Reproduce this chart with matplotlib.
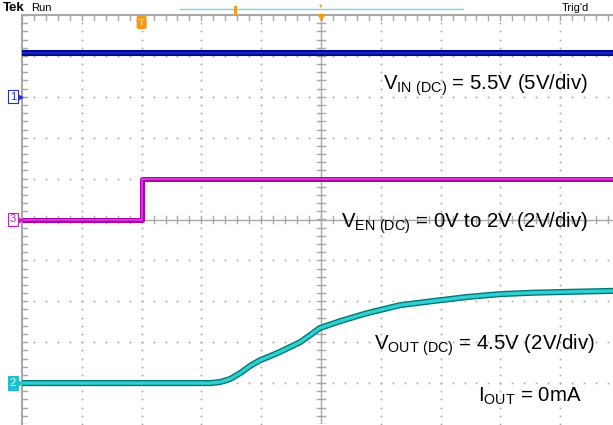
import numpy as np
import matplotlib.pyplot as plt

plt.rcParams['font.family'] = ['Liberation Sans', 'DejaVu Sans']
plt.rcParams['mathtext.fontset'] = 'custom'
plt.rcParams['mathtext.rm'] = 'Liberation Sans'

W, H = 613, 425

# ---- scope captures (time in divisions, level in volts) ----
vin_t = [0, 10]
vin_v = [5.4, 5.4]

ven_t = [0, 2.0, 2.0, 10]
ven_v = [0, 0, 2.0, 2.0]

vout_t = [0, 3.14, 3.31, 3.48, 3.65, 3.81, 3.98, 4.15, 4.31, 4.48, 4.65, 4.82, 4.98,
          5.32, 5.77, 6.32, 6.87, 7.44, 7.99, 8.55, 9.11, 9.88, 10]
vout_v = [0, 0, 0.05, 0.20, 0.49, 0.83, 1.12, 1.32, 1.52, 1.76, 2.00, 2.35, 2.69,
          3.03, 3.42, 3.81, 4.01, 4.21, 4.35, 4.42, 4.46, 4.51, 4.52]

# channel settings: (volts/div, ground offset in divisions)
CH1 = (5.0, 3.0)
CH2 = (2.0, -4.0)
CH3 = (2.0, 0.0)

def to_div(v, ch):
    return np.array(v) / ch[0] + ch[1]

fig = plt.figure(figsize=(W / 100, H / 100), dpi=100)
ax = fig.add_axes([22 / W, 1 / H, 598 / W, 409 / H])
ax.set_xlim(0, 10)
ax.set_ylim(-5, 5)
ax.axis('off')

grid_c = '#a8a8a8'
minor = np.arange(0, 10.01, 0.2)
minor_y = np.arange(-5, 5.01, 0.2)

# dotted graticule
for gx in range(1, 10):
    if gx != 5:
        ax.plot(np.full_like(minor_y, gx), minor_y, ls='none', marker='s', ms=1.2, color=grid_c, mew=0)
for gy in range(-4, 5):
    if gy != 0:
        ax.plot(minor, np.full_like(minor, gy), ls='none', marker='s', ms=1.2, color=grid_c, mew=0)

# centre crosshair and border with ticks
ax.plot([0, 10], [0, 0], color=grid_c, lw=1)
ax.plot([5, 5], [-5, 5], color=grid_c, lw=1)
ax.plot([0, 10.2], [5, 5], color=grid_c, lw=1.5, clip_on=False)
ax.plot([0, 0], [-5, 5], color=grid_c, lw=1.5, clip_on=False)
for m in minor:
    ax.plot([m, m], [-0.08, 0.08], color=grid_c, lw=1)
    ax.plot([m, m], [5, 4.88], color=grid_c, lw=1)
for m in minor_y:
    ax.plot([4.94, 5.06], [m, m], color=grid_c, lw=1)
    ax.plot([0, 0.08], [m, m], color=grid_c, lw=1)

# traces
ax.plot(vin_t, to_div(vin_v, CH1), color='#000a90', lw=4.4, solid_capstyle='butt')
ax.plot(vin_t, to_div(vin_v, CH1), color='#1428c0', lw=1.5, solid_capstyle='butt')
ax.plot(ven_t, to_div(ven_v, CH3), color='#b000b0', lw=3.6, solid_capstyle='butt')
ax.plot(ven_t, to_div(ven_v, CH3), color='#e040e0', lw=1.2, solid_capstyle='butt')
ax.plot(vout_t, to_div(vout_v, CH2), color='#007878', lw=4.4, solid_capstyle='butt')
ax.plot(vout_t, to_div(vout_v, CH2), color='#30d0d0', lw=2.4, solid_capstyle='butt')

# channel ground markers
marks = [('1', CH1, '#2030d0', 'white'), ('3', CH3, '#c020c0', 'white'), ('2', CH2, 'white', '#20c0d0')]
for lab, ch, fc, bg in marks:
    ax.text(-0.15, ch[1], lab, ha='center', va='center', fontsize=8, color=fc, clip_on=False,
            bbox=dict(boxstyle='square,pad=0.15', fc=bg, ec=fc if bg == 'white' else bg, lw=0.8))
    ax.plot([-0.04], [ch[1]], marker='>', ms=3.5, color=fc if bg == 'white' else bg, clip_on=False)

# trigger markers
orange = '#f39a1a'
ax.text(2.0, 4.82, 'T', ha='center', va='center', fontsize=6.5, color='white', clip_on=False,
        bbox=dict(boxstyle='round,pad=0.18', fc=orange, ec=orange))
ax.plot([5.0], [4.96], marker='v', ms=5, color=orange, clip_on=False)
fig.text(321 / W, 1 - 6 / H, '\u25BC', fontsize=4, color=orange, ha='center', va='center')
fig.add_artist(plt.Line2D([180 / W, 463 / W], [1 - 9 / H, 1 - 9 / H], color='#70d8e0', lw=1))
fig.text(234 / W, 1 - 10 / H, '\u2590', fontsize=6, color=orange, ha='center', va='center')

# header text
fig.text(3 / W, 1 - 8 / H, 'Tek', fontsize=9.5, fontweight='bold', va='center')
fig.text(31 / W, 1 - 8 / H, 'Run', fontsize=8, va='center')
fig.text(562 / W, 1 - 8 / H, "Trig'd", fontsize=8, va='center')

# annotations
fs = 14.7
fig.text(588 / W, 1 - 90 / H, r'$\mathregular{V_{IN\ (DC)}}$ = 5.5V (5V/div)', fontsize=fs, va='baseline', ha='right')
fig.text(588 / W, 1 - 228 / H, r'$\mathregular{V_{EN\ (DC)}}$ = 0V to 2V (2V/div)', fontsize=fs, va='baseline', ha='right')
fig.text(595 / W, 1 - 350 / H, r'$\mathregular{V_{OUT\ (DC)}}$ = 4.5V (2V/div)', fontsize=fs, va='baseline', ha='right')
fig.text(582 / W, 1 - 402 / H, r'$\mathregular{I_{OUT}}$ = 0mA', fontsize=fs, va='baseline', ha='right')

fig.savefig('out.png', dpi=100)
